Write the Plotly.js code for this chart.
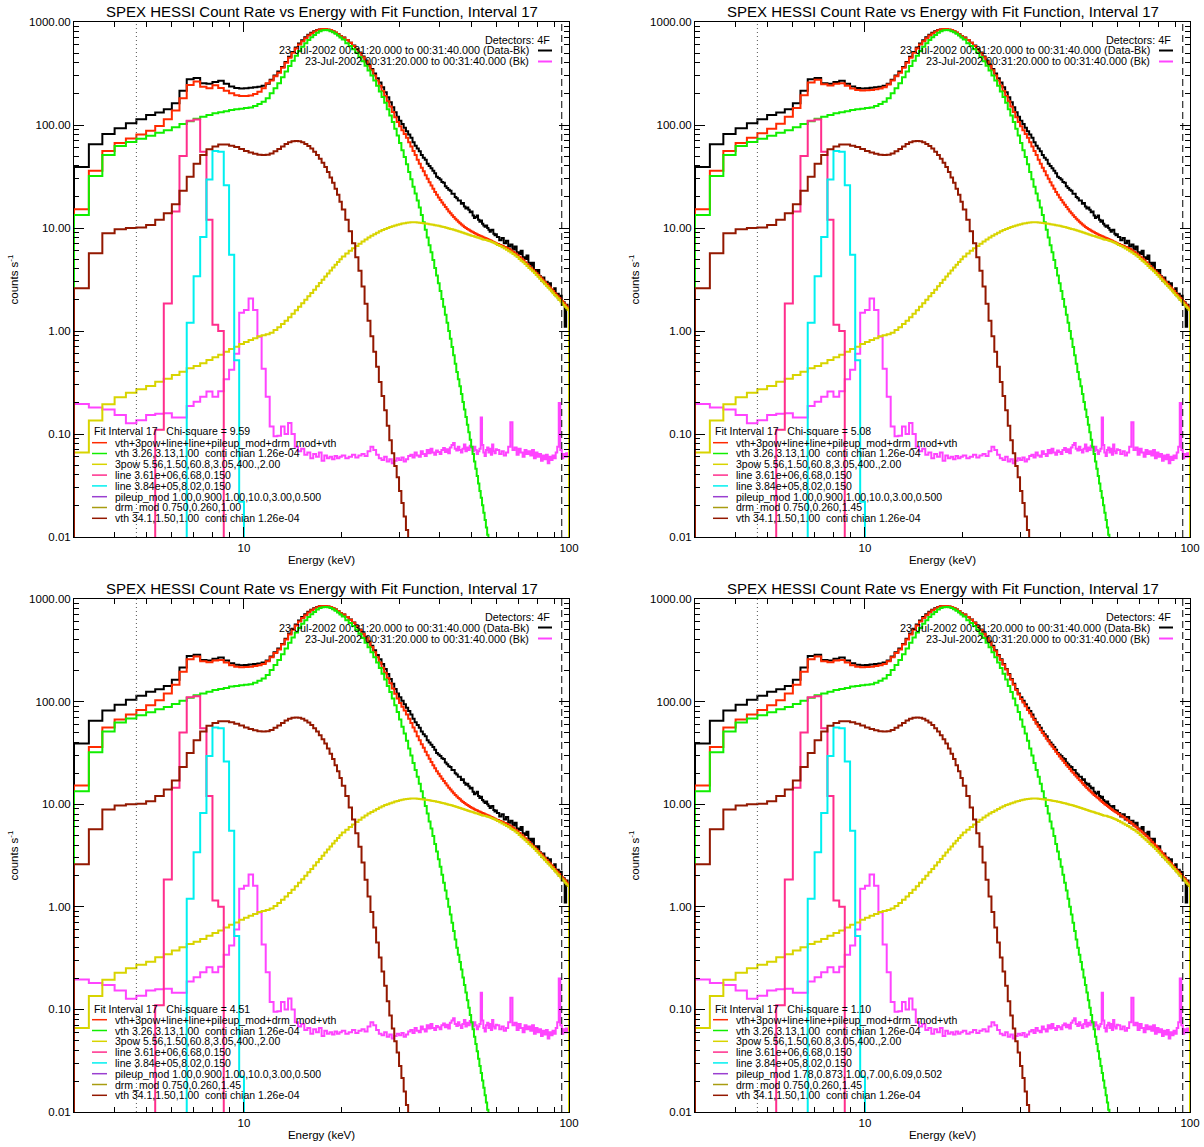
<!DOCTYPE html>
<html><head><meta charset="utf-8">
<script src="https://cdn.plot.ly/plotly-3.0.1.min.js"></script>
<style>html,body{margin:0;padding:0;background:#fff}#chart{width:1204px;height:1147px}</style>
</head><body><div id="chart"></div>
<script>
// ---- energy bin edges (keV): 1/3 keV to 20, 0.5 keV to 60, 1 keV to 100 ----
const energyEdges = [3, 3.333, 3.667, 4, 4.333, 4.667, 5, 5.333, 5.667, 6, 6.333, 6.667, 7, 7.333, 7.667, 8, 8.333, 8.667, 9, 9.333, 9.667,
  10, 10.333, 10.667, 11, 11.333, 11.667, 12, 12.333, 12.667, 13, 13.333, 13.667, 14, 14.333, 14.667, 15, 15.333, 15.667, 16, 16.333, 16.667,
  17, 17.333, 17.667, 18, 18.333, 18.667, 19, 19.333, 19.667,
  20, 20.5, 21, 21.5, 22, 22.5, 23, 23.5, 24, 24.5, 25, 25.5, 26, 26.5, 27, 27.5, 28, 28.5, 29, 29.5,
  30, 30.5, 31, 31.5, 32, 32.5, 33, 33.5, 34, 34.5, 35, 35.5, 36, 36.5, 37, 37.5, 38, 38.5, 39, 39.5,
  40, 40.5, 41, 41.5, 42, 42.5, 43, 43.5, 44, 44.5, 45, 45.5, 46, 46.5, 47, 47.5, 48, 48.5, 49, 49.5,
  50, 50.5, 51, 51.5, 52, 52.5, 53, 53.5, 54, 54.5, 55, 55.5, 56, 56.5, 57, 57.5, 58, 58.5, 59, 59.5,
  60, 61, 62, 63, 64, 65, 66, 67, 68, 69, 70, 71, 72, 73, 74, 75, 76, 77, 78, 79,
  80, 81, 82, 83, 84, 85, 86, 87, 88, 89, 90, 91, 92, 93, 94, 95, 96, 97, 98, 99, 100];

// ---- count rates (counts/s) per bin ----
const dataMinusBk = [39, 65, 82, 93, 104, 114, 125, 132, 142, 163, 215, 278,
  286, 254, 251, 261, 269, 251, 236, 229, 226,
  228, 230, 232, 235, 240, 252,
  275, 303, 330, 365, 410, 460, 512, 565, 618, 666, 710, 750, 785, 812, 835,
  848, 852, 850, 842, 830, 810, 788, 760, 730,
  706, 668, 630, 590, 547, 505, 463, 423, 386, 350, 316, 285, 258, 232, 208, 186, 166, 149, 133, 120,
  110, 102, 94, 87, 81, 75, 68, 63, 59, 55.5, 51, 48, 46, 42, 40, 38, 36, 34, 31.5, 30.5,
  29.5, 28, 27.5, 25.5, 24.5, 23.5, 23, 21.5, 21.5, 20, 19.5, 18.5, 18.5, 17.2, 17.5, 16.2, 15.5, 15.8, 15, 14.2,
  14.5, 13.2, 12.5, 12.8, 13.2, 12, 11.5, 11.8, 11, 10.6, 10.3, 10.6, 10, 9.6, 9.2, 9.5, 9.6, 8.8, 8.5, 8.7,
  8.2, 7.6, 8.0, 7.1, 7.5, 6.6, 6.9, 6.2, 6.6, 5.8, 5.6, 6.0, 5.2, 5.0, 5.4, 4.6, 4.3, 4.6, 3.9, 3.7,
  3.9, 3.4, 3.1, 3.3, 2.9, 3.0, 2.7, 2.9, 2.5, 2.4, 2.6, 2.2, 2.3, 2.0, 2.2, 1.8, 1.9, 1.1, 1.8, 1.6];

const background = [0.196, 0.181, 0.173, 0.153, 0.127, 0.136, 0.153, 0.157, 0.159, 0.145, 0.145, 0.187,
  0.206, 0.23, 0.258, 0.23, 0.26, 0.34, 0.42, 0.6, 1.5,
  1.6, 2.07, 1.6, 0.88, 0.43, 0.23,
  0.118, 0.095, 0.096, 0.118, 0.1, 0.128, 0.1, 0.075, 0.068, 0.072, 0.063, 0.066, 0.058, 0.064, 0.06,
  0.066, 0.055, 0.062, 0.058, 0.06, 0.057, 0.061, 0.058, 0.06,
  0.062, 0.058, 0.06, 0.063, 0.059, 0.062, 0.064, 0.061, 0.068, 0.075, 0.07, 0.063, 0.058, 0.056, 0.06, 0.054, 0.057, 0.052, 0.055, 0.058,
  0.056, 0.059, 0.054, 0.057, 0.061, 0.063, 0.059, 0.066, 0.062, 0.06, 0.068, 0.064, 0.061, 0.07, 0.065, 0.072, 0.066, 0.063, 0.069, 0.067,
  0.064, 0.07, 0.073, 0.067, 0.071, 0.065, 0.074, 0.078, 0.082, 0.072, 0.069, 0.075, 0.07, 0.066, 0.072, 0.079, 0.068, 0.074, 0.07, 0.077,
  0.073, 0.068, 0.075, 0.07, 0.064, 0.068, 0.072, 0.145, 0.078, 0.066, 0.061, 0.07, 0.074, 0.066, 0.072, 0.063, 0.079, 0.068, 0.065, 0.071,
  0.07, 0.064, 0.068, 0.062, 0.066, 0.075, 0.13, 0.07, 0.074, 0.063, 0.072, 0.066, 0.06, 0.07, 0.064, 0.068, 0.062, 0.07, 0.058, 0.066,
  0.06, 0.064, 0.055, 0.062, 0.057, 0.063, 0.052, 0.06, 0.056, 0.062, 0.058, 0.066, 0.075, 0.2, 0.07, 0.058, 0.064, 0.06, 0.065, 0.06];

// total fit (red), pieces: 3-12 keV, 12-25 keV, 25-100 keV
const fitLowA = [15.2, 36, 56, 67, 74, 81, 88, 98, 114, 138, 182, 244,
  264, 235, 227, 243, 229, 215, 203, 195, 191,
  191, 193, 200, 210, 227, 254];
const fitLowB = [15.2, 36, 56, 67, 75, 83, 92, 103, 120, 146, 195, 258,
  275, 248, 242, 252, 255, 240, 226, 219, 216,
  217, 219, 222, 226, 233, 247];
const fitMid = [270, 298, 322, 360, 402, 450, 502, 552, 605, 652, 695, 738, 775, 805, 830,
  848, 856, 855, 848, 835, 815, 790, 762, 732,
  705, 668, 628, 586, 542, 498, 455, 414, 376, 340];
const fitHighA = [303, 270, 240, 214, 191, 170, 151, 134, 119, 107,
  97, 89, 82, 75, 68, 62, 56, 51, 46, 42,
  38.5, 35.5, 32.5, 30, 27.8, 25.8, 24, 22.4, 21, 19.8,
  18.7, 17.7, 16.8, 16, 15.2, 14.5, 13.9, 13.3, 12.8, 12.3,
  11.9, 11.5, 11.15, 10.8, 10.5, 10.25, 10.0, 9.8, 9.6, 9.4,
  9.25, 9.1, 8.95, 8.8, 8.67, 8.55, 8.43, 8.32, 8.21, 8.1,
  8.0, 7.9, 7.8, 7.7, 7.6, 7.5, 7.4, 7.3, 7.2, 7.1,
  7.0, 6.85, 6.7, 6.55, 6.4, 6.25, 6.05, 5.85, 5.65, 5.45, 5.25, 5.05, 4.85, 4.65, 4.45, 4.27, 4.1, 3.94, 3.79, 3.64,
  3.5, 3.36, 3.23, 3.1, 2.98, 2.86, 2.75, 2.64, 2.54, 2.44, 2.34, 2.25, 2.17, 2.09, 2.01, 1.94, 1.87, 1.8, 1.73, 1.67];
const fitHighD = [310, 280, 254, 229, 205, 183, 163, 146, 130, 117,
  106, 98, 90, 83, 77, 71, 66, 61, 57, 53,
  49.5, 46.5, 43.5, 41, 38.5, 36.5, 34.5, 32.5, 30.8, 29.2,
  27.8, 26.5, 25.2, 24, 23, 22, 21, 20.2, 19.4, 18.6,
  17.9, 17.2, 16.6, 16, 15.4, 14.9, 14.4, 13.9, 13.5, 13.1,
  12.7, 12.3, 12, 11.7, 11.4, 11.1, 10.8, 10.5, 10.25, 10.0,
  9.8, 9.6, 9.4, 9.2, 9.0, 8.8, 8.65, 8.5, 8.35, 8.2,
  8.0, 7.7, 7.45, 7.2, 6.95, 6.7, 6.45, 6.2, 5.95, 5.7, 5.5, 5.3, 5.1, 4.9, 4.7, 4.5, 4.3, 4.12, 3.95, 3.78,
  3.62, 3.46, 3.3, 3.16, 3.02, 2.89, 2.77, 2.65, 2.54, 2.44, 2.34, 2.25, 2.17, 2.09, 2.01, 1.94, 1.87, 1.8, 1.73, 1.67];

const vthLow = [13.4, 32, 51, 62.5, 68.4, 73.7, 78.8, 84.3, 88.8, 94.9, 102, 109,
  115, 120, 125, 130, 133, 136, 140, 142, 144,
  146, 148, 153, 160, 168, 182,
  203, 227, 254, 290, 330, 374, 421, 471, 523, 575, 621, 668, 710, 748, 788,
  815, 830, 835, 830, 815, 795, 770, 740, 708,
  675, 622, 585, 545, 502, 458, 416, 375, 338, 302, 270, 240, 212, 187, 164, 142, 124, 107, 92, 79,
  67, 57, 49, 41.5, 35, 29.8, 25.2, 21.6, 18.5, 15.8, 13.4, 11.4, 9.6, 8.1, 6.8, 5.8, 4.9, 4.1, 3.45, 2.9,
  2.45, 2.05, 1.72, 1.44, 1.2, 1.0, 0.84, 0.7, 0.58, 0.48, 0.4, 0.34, 0.29, 0.245, 0.205, 0.173, 0.146, 0.123, 0.104, 0.088,
  0.075, 0.064, 0.054, 0.046, 0.039, 0.033, 0.028, 0.024, 0.0203, 0.0172, 0.0146, 0.0124, 0.0105, 0.0089, 0.0075];

const threePow = [0.066, 0.135, 0.195, 0.227, 0.252, 0.272, 0.292, 0.322, 0.344, 0.374, 0.403, 0.434,
  0.457, 0.486, 0.523, 0.555, 0.589, 0.63, 0.669, 0.705, 0.748,
  0.782, 0.818, 0.85, 0.89, 0.91, 0.93,
  0.96, 1.02, 1.09, 1.17, 1.26, 1.36, 1.47, 1.59, 1.72, 1.86, 2.01, 2.17, 2.34, 2.52, 2.72,
  2.93, 3.15, 3.38, 3.62, 3.87, 4.13, 4.4, 4.68, 4.97,
  5.3, 5.65, 6.0, 6.35, 6.7, 7.05, 7.4, 7.75, 8.1, 8.4, 8.7, 9.0, 9.3, 9.55, 9.8, 10.0, 10.2, 10.4, 10.6, 10.75,
  10.9, 11.05, 11.15, 11.25, 11.3, 11.35, 11.35, 11.35, 11.3, 11.25, 11.2, 11.12, 11.05, 10.97, 10.9, 10.82, 10.74, 10.66, 10.58, 10.5,
  10.4, 10.3, 10.2, 10.1, 10.0, 9.9, 9.8, 9.7, 9.6, 9.5, 9.4, 9.3, 9.2, 9.1, 9.0, 8.9, 8.8, 8.7, 8.6, 8.5,
  8.42, 8.34, 8.26, 8.18, 8.1, 8.02, 7.94, 7.86, 7.78, 7.7, 7.7, 7.63, 7.56, 7.49, 7.42, 7.35, 7.27, 7.19, 7.1, 7.0,
  6.85, 6.68, 6.5, 6.32, 6.14, 5.96, 5.78, 5.6, 5.42, 5.24, 5.0, 4.82, 4.64, 4.46, 4.28, 4.1, 3.95, 3.8, 3.65, 3.5,
  3.36, 3.22, 3.09, 2.97, 2.85, 2.74, 2.63, 2.53, 2.43, 2.33, 2.24, 2.16, 2.08, 2.0, 1.93, 1.86, 1.79, 1.72, 1.66, 1.6];

const vthHigh = [2.6, 5.7, 8.9, 9.7, 10.0, 10.1, 10.7, 12, 13.9, 17, 23, 31.5,
  42, 51, 58, 62, 64.5, 64.5, 63, 61, 58.5,
  56, 54, 52.5, 51.5, 51, 51.5,
  53, 55.5, 58.5, 62, 65.5, 68, 69.5, 70, 69.5, 68, 65.5, 62.5, 59, 55, 51,
  47, 43, 39, 35, 31, 27.5, 24, 21, 18,
  15.1, 12.0, 9.3, 7.1, 5.2, 3.85, 2.7, 1.84, 1.26, 0.89, 0.63, 0.45, 0.32, 0.234, 0.17, 0.12, 0.087, 0.065, 0.049, 0.038,
  0.028, 0.0214, 0.0158, 0.0117, 0.0087, 0.0065];

const lineFe = [0.11, 1.85, 14.5, 50, 110, 113, 55, 12, 1.15, 1.0];      // from 5.333 keV
const lineFe_start = 5.333;
const lineFeNi = [1.2, 3.4, 8.2, 29.5, 56, 55, 26, 5.5, 0.52, 0.022];  // from 6.667 keV
const lineFeNi_start = 6.667;

const fitRange = [4.667, 95];

// ---- tick labels ----
const yTickVals = [0.01, 0.1, 1, 10, 100, 1000];
const yTickText = ['0.01', '0.10', '1.00', '10.00', '100.00', '1000.00'];
const xTickVals = [10, 100];
const xTickText = ['10', '100'];
const xMinorVals = [4, 5, 6, 7, 8, 9, 20, 30, 40, 50, 60, 70, 80, 90];
const yMinorVals = [0.02,0.03,0.04,0.05,0.06,0.07,0.08,0.09,0.2,0.3,0.4,0.5,0.6,0.7,0.8,0.9,2,3,4,5,6,7,8,9,20,30,40,50,60,70,80,90,200,300,400,500,600,700,800,900];

// ---- per panel text / fits ----
const chiSquare = ['9.59', '5.08', '4.51', '1.10'];
const pileupText = ['1.00,0.900,1.00,10.0,3.00,0.500', '1.00,0.900,1.00,10.0,3.00,0.500', '1.00,0.900,1.00,10.0,3.00,0.500', '1.78,0.873,1.00,7.00,6.09,0.502'];
const drmText = ['0.750,0.260,1.00', '0.750,0.260,1.45', '0.750,0.260,1.45', '0.750,0.260,1.45'];
const fitTotals = [
  fitLowA.concat(fitMid, fitHighA),
  fitLowB.concat(fitMid, fitHighA),
  fitLowB.concat(fitMid, fitHighA),
  fitLowB.concat(fitMid, fitHighD)
];

const C = {black:'#000000', red:'#ff2a00', green:'#11ee00', yellow:'#d8d400', pink:'#ff2e8c', cyan:'#00f0f0',
  magenta:'#ff44ff', dark:'#931800', purple:'#9a3fd0', olive:'#a89c10'};
const FONT = 'Liberation Sans, Arial, Helvetica, sans-serif';
const W = 1204, H = 1147;
const panels = [
  {ox:74, oy:22, h:515}, {ox:695, oy:22, h:515}, {ox:74, oy:599, h:513}, {ox:695, oy:599, h:513}
];
const PW = 495;
const tiny = 1e-4;

function idxOf(e){ let best=0; for(let i=0;i<energyEdges.length;i++){ if(Math.abs(energyEdges[i]-e)<Math.abs(energyEdges[best]-e)) best=i; } return best; }
function stepXY(vals, start){
  const n = vals.length;
  const x = [energyEdges[start]].concat(energyEdges.slice(start, start+n+1));
  const y = [tiny].concat(vals, [tiny]);
  return {x, y};
}

const traces = [];
const annotations = [];
const shapes = [];
const layout = {width:W, height:H, margin:{l:0,r:0,t:0,b:0}, paper_bgcolor:'#fff', plot_bgcolor:'#fff', showlegend:false,
  font:{family:FONT, color:'#000', size:12}};

function px(x){ return x / W; }
function py(y){ return 1 - y / H; }
function ann(text, x, y, opt){ annotations.push(Object.assign({text, x:px(x), y:py(y), xref:'paper', yref:'paper', showarrow:false,
  font:{family:FONT, size:10.5, color:'#000'}, xanchor:'left', yanchor:'middle'}, opt||{})); }
function seg(x0, x1, y, color, width){ shapes.push({type:'line', xref:'paper', yref:'paper', x0:px(x0), x1:px(x1), y0:py(y), y1:py(y), line:{color, width}}); }

panels.forEach((p, k) => {
  const sfx = k === 0 ? '' : String(k+1);
  const xa = 'x' + sfx, ya = 'y' + sfx;
  const axisBase = {showline:true, linecolor:'#000', linewidth:1, mirror:'ticks', ticks:'inside', ticklen:10, tickwidth:1, tickcolor:'#000',
    showgrid:false, zeroline:false, tickfont:{family:FONT, size:11.5, color:'#000'}, fixedrange:true};
  layout['xaxis' + sfx] = Object.assign({}, axisBase, {type:'log', range:[Math.log10(3), 2], domain:[px(p.ox), px(p.ox+PW)],
    anchor:ya, tickmode:'array', tickvals:xTickVals, ticktext:xTickText,
    title:{text:'Energy (keV)', font:{family:FONT, size:11.5, color:'#000'}, standoff:3},
    minor:{tickmode:'array', tickvals:xMinorVals, ticks:'inside', ticklen:5, tickwidth:1, tickcolor:'#000', showgrid:false}});
  layout['yaxis' + sfx] = Object.assign({}, axisBase, {type:'log', range:[-2, 3], domain:[py(p.oy+p.h), py(p.oy)],
    anchor:xa, tickmode:'array', tickvals:yTickVals, ticktext:yTickText,
    title:{text:'counts s<sup>-1</sup>', font:{family:FONT, size:11.5, color:'#000'}, standoff:8},
    minor:{tickmode:'array', tickvals:yMinorVals, ticks:'inside', ticklen:5, tickwidth:1, tickcolor:'#000', showgrid:false}});

  const series = [
    [dataMinusBk, 0, C.black],
    [background, 0, C.magenta],
    [fitTotals[k], 0, C.red],
    [vthLow, 0, C.green],
    [threePow, 0, C.yellow],
    [lineFe, idxOf(lineFe_start), C.pink],
    [lineFeNi, idxOf(lineFeNi_start), C.cyan],
    [vthHigh, 0, C.dark]
  ];
  series.forEach(s => {
    const d = stepXY(s[0], s[1]);
    traces.push({type:'scatter', mode:'lines', x:d.x, y:d.y, xaxis:xa, yaxis:ya, hoverinfo:'skip',
      line:{color:s[2], width:2, shape:'hv', simplify:false}});
  });

  // fit range markers
  shapes.push({type:'line', xref:xa, yref:ya + ' domain', x0:fitRange[0], x1:fitRange[0], y0:0, y1:1, line:{color:'#555', width:1, dash:'1px,3px'}});
  shapes.push({type:'line', xref:xa, yref:ya + ' domain', x0:fitRange[1], x1:fitRange[1], y0:0, y1:1, line:{color:'#000', width:1, dash:'7px,4px'}});

  // panel title
  ann('SPEX HESSI Count Rate vs Energy with Fit Function, Interval 17', p.ox + PW/2, p.oy - 11, {xanchor:'center', font:{family:FONT, size:15, color:'#000'}});

  // top-right legend
  ann('Detectors: 4F', p.ox + 478, p.oy + 18, {xanchor:'right', font:{family:FONT, size:10.8, color:'#000'}});
  ann('23-Jul-2002 00:31:20.000 to 00:31:40.000 (Data-Bk)', p.ox + 457, p.oy + 28.5, {xanchor:'right', font:{family:FONT, size:10.8, color:'#000'}});
  ann('23-Jul-2002 00:31:20.000 to 00:31:40.000 (Bk)', p.ox + 457, p.oy + 39.5, {xanchor:'right', font:{family:FONT, size:10.8, color:'#000'}});
  seg(p.ox + 464, p.ox + 478, p.oy + 28.5, C.black, 2);
  seg(p.ox + 464, p.ox + 478, p.oy + 39.5, C.magenta, 2);

  // lower-left fit legend
  ann('Fit Interval 17\u00a0\u00a0\u00a0Chi-square = ' + chiSquare[k], p.ox + 18, p.oy + 409.5);
  const items = [
    ['vth+3pow+line+line+pileup_mod+drm_mod+vth', C.red],
    ['vth 3.26,3.13,1.00\u00a0 conti chian 1.26e-04', C.green],
    ['3pow 5.56,1.50,60.8,3.05,400.,2.00', C.yellow],
    ['line 3.61e+06,6.68,0.150', C.pink],
    ['line 3.84e+05,8.02,0.150', C.cyan],
    ['pileup_mod ' + pileupText[k], C.purple],
    ['drm_mod ' + drmText[k], C.olive],
    ['vth 34.1,1.50,1.00\u00a0 conti chian 1.26e-04', C.dark]
  ];
  items.forEach((it, j) => {
    const yy = p.oy + 420.7 + j * 10.8;
    seg(p.ox + 18, p.ox + 33, yy, it[1], 1.5);
    ann(it[0], p.ox + 39, yy);
  });
});

layout.annotations = annotations;
layout.shapes = shapes;
Plotly.newPlot('chart', traces, layout, {staticPlot:true, displayModeBar:false});
</script>
</body></html>
